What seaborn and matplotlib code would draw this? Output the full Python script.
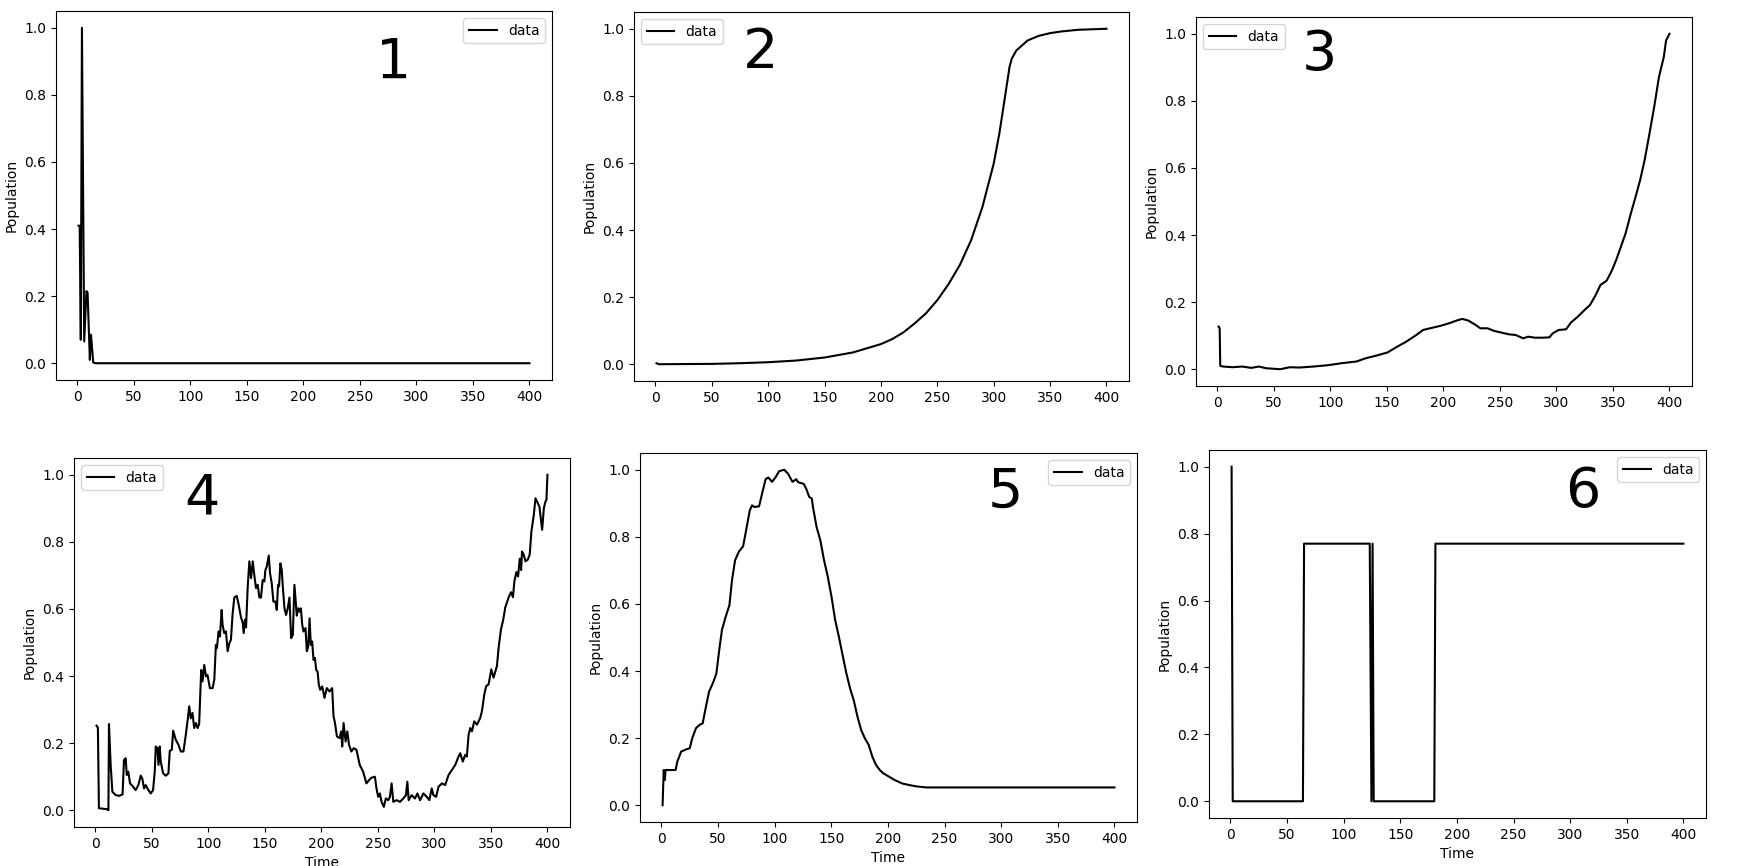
import seaborn as sns
import matplotlib.pyplot as plt

# panel 1 - early spikes then flat
t1 = [1, 2, 3, 4, 6, 8, 9, 11, 12, 14, 16, 400]
pop1 = [0.41, 0.41, 0.07, 1.0, 0.065, 0.215, 0.21, 0.01, 0.085, 0.002, 0.0, 0.0]

# panel 2 - s-curve
t2 = [1, 3, 25, 50, 75, 100, 125, 150, 175, 200,
      210, 220, 230, 240, 250, 260, 270, 280, 290, 300,
      305, 310, 314, 316, 320, 330, 340, 350, 360, 375,
      400]
pop2 = [0.003, 0.0, 0.0005, 0.001, 0.003, 0.006, 0.011, 0.02, 0.035, 0.06,
        0.075, 0.095, 0.122, 0.152, 0.191, 0.239, 0.296, 0.37, 0.469, 0.598,
        0.688, 0.797, 0.886, 0.911, 0.935, 0.965, 0.979, 0.987, 0.992, 0.997,
        1.0]

# panel 3
t3 = [1, 2, 2.5, 5, 13.5, 22, 30, 36.7, 43, 55.6,
      64, 72.5, 85, 97.8, 110, 123, 131.5, 140, 150.5, 159,
      167, 176, 182, 188, 197, 205, 211.6, 216.7, 222, 228.5,
      232.7, 239, 245, 251.6, 258, 264, 270.6, 274.8, 281, 287.6,
      293.8, 296.7, 302, 308.5, 312.8, 319, 325, 329.6, 334.7, 338.9,
      344.4, 348.6, 352.8, 357, 361.2, 365.4, 369.6, 374, 378, 382.3,
      386.5, 390.7, 395, 397, 400]
pop3 = [0.127, 0.122, 0.01, 0.008, 0.006, 0.008, 0.004, 0.008, 0.003, 0.0,
        0.006, 0.005, 0.008, 0.012, 0.018, 0.023, 0.033, 0.04, 0.05, 0.067,
        0.082, 0.102, 0.117, 0.122, 0.129, 0.137, 0.145, 0.15, 0.145, 0.132,
        0.122, 0.122, 0.114, 0.109, 0.104, 0.102, 0.092, 0.097, 0.094, 0.094,
        0.095, 0.107, 0.117, 0.119, 0.139, 0.157, 0.177, 0.191, 0.221, 0.251,
        0.264, 0.291, 0.325, 0.365, 0.405, 0.459, 0.509, 0.563, 0.623, 0.702,
        0.782, 0.871, 0.931, 0.98, 1.0]

# panel 4 - noisy
t4 = [1, 2.2, 3.1, 10.5, 11.5, 12, 13.5, 15, 18, 21,
      24, 25.3, 26.8, 27.7, 29.1, 30.6, 32.7, 35.6, 38, 40.1,
      41.6, 43, 44.5, 46.9, 48.9, 51, 52.5, 53.4, 54.9, 55.8,
      56.9, 57.8, 59.9, 62.3, 64.6, 65.8, 67.6, 68.8, 71.1, 73.5,
      75.6, 77.9, 80, 81.8, 83, 84.4, 85.9, 87.4, 88.9, 90.4,
      91.8, 93.6, 94.8, 96.3, 97.8, 99.2, 101.3, 103.7, 105.2, 106.6,
      107.5, 109, 110.2, 111.7, 112.5, 114, 115.5, 117, 118.5, 119.9,
      121.4, 122.9, 125, 126.7, 128.8, 130.3, 131.2, 132.4, 133.3, 134.7,
      136.2, 137.7, 139.2, 140.6, 142.1, 143.6, 145.1, 146.5, 148, 149.5,
      150.4, 151.6, 153.4, 154.5, 156, 157.5, 159.3, 160.5, 161.6, 162.5,
      163.7, 164.9, 165.8, 167.3, 168.7, 170.2, 171.7, 173.2, 174.7, 176.1,
      177, 178.2, 179.4, 180.6, 181.8, 183, 184.1, 185.9, 187.1, 188.3,
      189.5, 190.6, 191.8, 193, 194.2, 195.4, 196.6, 197.7, 198.9, 200.7,
      202.7, 204.8, 207.2, 209.5, 210.7, 212, 213.7, 216, 217.5, 218.4,
      219.6, 221.4, 222.9, 224.4, 226.5, 228.6, 231, 233.9, 236.9, 239.8,
      242.2, 244.3, 247.3, 248.7, 250.2, 251.7, 253.2, 255.2, 257, 259.1,
      260.6, 262.1, 263.6, 266.5, 269.5, 272.4, 274.8, 276, 277.2, 279.8,
      282.8, 284.9, 287.3, 290.2, 293.2, 295.5, 297.6, 299.1, 301.5, 303.6,
      306.6, 309.5, 312.5, 315.4, 318.4, 321.3, 322.8, 325.1, 327.2, 328.7,
      330.2, 331.7, 333.2, 335.2, 337.6, 340.5, 342, 344.1, 345.8, 347.9,
      350.3, 352.3, 355.3, 356.8, 358.9, 360.7, 362.7, 365.7, 367.8, 369.5,
      370.7, 372.5, 374, 375.5, 376.7, 377.5, 379, 380.5, 382.6, 384.3,
      385.8, 387.9, 389.4, 390.8, 392.9, 395.3, 396.8, 398.2, 399.1, 400]
pop4 = [0.252, 0.246, 0.006, 0.003, 0.0, 0.257, 0.135, 0.055, 0.045, 0.043,
        0.047, 0.15, 0.155, 0.105, 0.115, 0.08, 0.073, 0.06, 0.075, 0.103,
        0.093, 0.065, 0.075, 0.06, 0.05, 0.06, 0.115, 0.19, 0.185, 0.135,
        0.19, 0.145, 0.11, 0.103, 0.11, 0.177, 0.18, 0.237, 0.21, 0.195,
        0.175, 0.175, 0.225, 0.274, 0.31, 0.274, 0.29, 0.245, 0.26, 0.245,
        0.257, 0.418, 0.384, 0.433, 0.399, 0.403, 0.364, 0.364, 0.389, 0.493,
        0.483, 0.533, 0.518, 0.597, 0.553, 0.528, 0.533, 0.474, 0.498, 0.508,
        0.585, 0.634, 0.639, 0.614, 0.575, 0.56, 0.528, 0.568, 0.545, 0.662,
        0.742, 0.692, 0.742, 0.701, 0.662, 0.672, 0.634, 0.634, 0.686, 0.682,
        0.716, 0.726, 0.759, 0.707, 0.677, 0.622, 0.622, 0.597, 0.672, 0.667,
        0.736, 0.716, 0.667, 0.602, 0.582, 0.602, 0.634, 0.513, 0.523, 0.672,
        0.634, 0.58, 0.602, 0.592, 0.602, 0.553, 0.533, 0.543, 0.474, 0.488,
        0.572, 0.493, 0.503, 0.448, 0.454, 0.418, 0.413, 0.374, 0.359, 0.369,
        0.335, 0.364, 0.354, 0.364, 0.28, 0.26, 0.22, 0.215, 0.235, 0.19,
        0.26, 0.205, 0.235, 0.195, 0.175, 0.185, 0.18, 0.135, 0.115, 0.08,
        0.09, 0.097, 0.1, 0.065, 0.04, 0.05, 0.025, 0.01, 0.035, 0.03,
        0.04, 0.08, 0.025, 0.03, 0.025, 0.035, 0.045, 0.085, 0.03, 0.045,
        0.035, 0.05, 0.03, 0.05, 0.04, 0.03, 0.065, 0.045, 0.04, 0.07,
        0.08, 0.075, 0.105, 0.12, 0.135, 0.16, 0.17, 0.145, 0.165, 0.16,
        0.225, 0.245, 0.235, 0.265, 0.255, 0.275, 0.295, 0.345, 0.37, 0.375,
        0.42, 0.395, 0.43, 0.485, 0.54, 0.565, 0.605, 0.635, 0.65, 0.635,
        0.682, 0.71, 0.697, 0.75, 0.716, 0.771, 0.762, 0.742, 0.747, 0.762,
        0.831, 0.88, 0.93, 0.92, 0.905, 0.836, 0.9, 0.92, 0.925, 1.0]

# panel 5 - hump
t5 = [1, 2, 3, 3.6, 12.5, 14, 17.4, 22.3, 25, 27.2,
      30.5, 33.8, 36.4, 38.7, 42, 45.9, 48.5, 51, 53.4, 56.7,
      60, 62.3, 65, 68.2, 72.1, 74.8, 78, 80, 82, 86.2,
      89.5, 92, 94.4, 97.7, 101, 104, 108.5, 111.8, 115.7, 119,
      120.6, 125.6, 127.9, 130.5, 132.8, 133.8, 137, 140.3, 143.6, 146.9,
      150.2, 153.4, 156.7, 160, 163.3, 166.6, 169.8, 173.1, 176.4, 179.7,
      183, 186.2, 189.5, 192.8, 196, 201, 206, 212.5, 219, 225.6,
      233.8, 242, 255, 400]
pop5 = [0.0, 0.105, 0.075, 0.105, 0.105, 0.13, 0.16, 0.167, 0.17, 0.2,
        0.23, 0.24, 0.244, 0.284, 0.338, 0.368, 0.393, 0.462, 0.522, 0.562,
        0.596, 0.671, 0.73, 0.755, 0.772, 0.82, 0.879, 0.894, 0.889, 0.891,
        0.938, 0.972, 0.977, 0.964, 0.979, 0.996, 1.0, 0.988, 0.964, 0.972,
        0.963, 0.958, 0.943, 0.919, 0.914, 0.889, 0.829, 0.79, 0.73, 0.681,
        0.621, 0.552, 0.502, 0.447, 0.393, 0.348, 0.313, 0.264, 0.224, 0.199,
        0.18, 0.145, 0.12, 0.105, 0.095, 0.085, 0.075, 0.065, 0.06, 0.056,
        0.053, 0.053, 0.053, 0.053]

# panel 6 - switching
t6 = [1, 2, 64, 65, 123, 124.5, 125.5, 126.5, 180, 181, 400]
pop6 = [1.0, 0.0, 0.0, 0.77, 0.77, 0.0, 0.77, 0.0, 0.0, 0.77, 0.77]

series = [(t1, pop1), (t2, pop2), (t3, pop3), (t4, pop4), (t5, pop5), (t6, pop6)]
numbers = ['1', '2', '3', '4', '5', '6']

# layout: axes boxes in pixels (left, top, right, bottom)
W, H = 1746, 866
boxes = [(56, 11, 552, 380), (634, 12, 1129, 381), (1196, 17, 1692, 386),
         (74, 458, 570, 827), (640, 453, 1137, 822), (1209, 450, 1706, 818)]
legend_loc = ['upper right', 'upper left', 'upper left',
              'upper left', 'upper right', 'upper right']
num_pos = [(0.68, 0.86), (0.255, 0.89), (0.248, 0.897),
           (0.258, 0.889), (0.736, 0.892), (0.752, 0.886)]

fig = plt.figure(figsize=(W / 100, H / 100), dpi=100)

for i, (t, pop) in enumerate(series):
    l, top, r, b = boxes[i]
    ax = fig.add_axes([l / W, 1 - b / H, (r - l) / W, (b - top) / H])
    sns.lineplot(x=t, y=pop, ax=ax, color='black', label='data',
                 estimator=None, sort=False, linewidth=1.5)
    ax.set_ylabel('Population')
    ax.set_xlabel('Time' if i >= 3 else '')
    ax.set_xticks([0, 50, 100, 150, 200, 250, 300, 350, 400])
    ax.legend(loc=legend_loc[i])
    ax.text(num_pos[i][0], num_pos[i][1], numbers[i], transform=ax.transAxes,
            fontsize=40, ha='center', va='center')

fig.savefig('out.png', dpi=100)
